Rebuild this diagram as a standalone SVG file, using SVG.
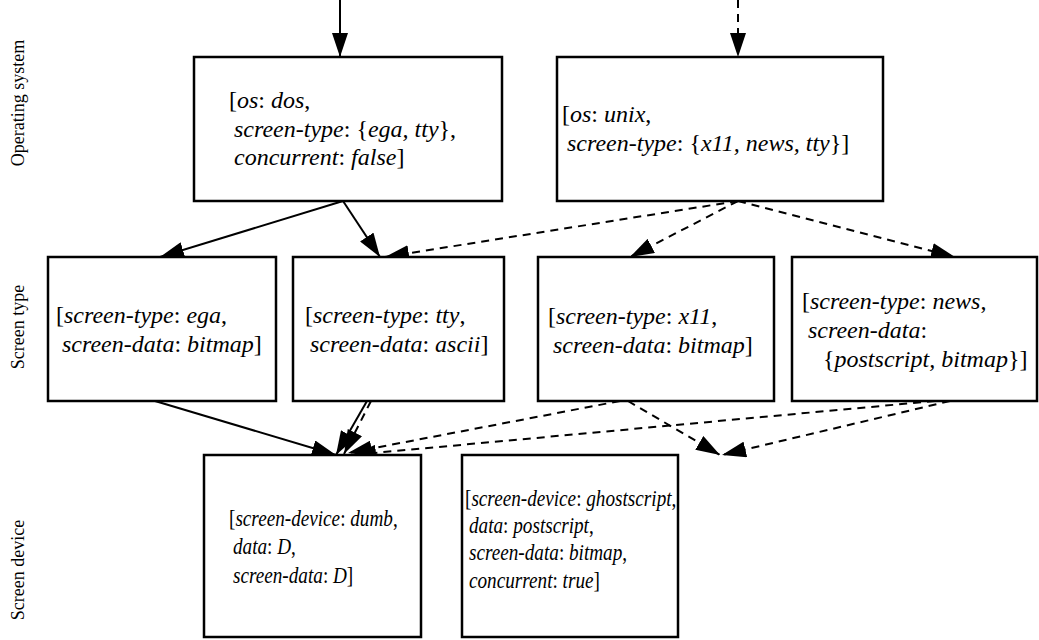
<svg xmlns="http://www.w3.org/2000/svg" width="1039" height="640" viewBox="0 0 1039 640">
<style>
.box{fill:#fff;stroke:#000;stroke-width:2.5}
.t{font-family:"Liberation Serif","Times New Roman",serif;font-size:24px;fill:#000}
.i{font-style:italic}
.lbl{font-family:"Liberation Serif","Times New Roman",serif;font-size:18px;fill:#000}
.e{fill:none;stroke:#000;stroke-width:2;marker-end:url(#ah)}
.d{stroke-dasharray:8,6}
</style>
<defs>
<marker id="ah" viewBox="0 0 24 16" refX="24" refY="8" markerWidth="24" markerHeight="16" markerUnits="userSpaceOnUse" orient="auto">
<path d="M0,0 L24,8 L0,16 z" fill="#000"/>
</marker>
</defs>
<rect width="1039" height="640" fill="#fff"/>
<g id="row-labels">
<text class="lbl" transform="translate(24,103) rotate(-90)" text-anchor="middle">Operating system</text>
<text class="lbl" transform="translate(24,327) rotate(-90)" text-anchor="middle">Screen type</text>
<text class="lbl" transform="translate(24,570) rotate(-90)" text-anchor="middle">Screen device</text>
</g>
<g id="connectors">
<path class="e" d="M340,0 L340,57"/>
<path class="e d" d="M738,0 L738,57"/>
<path class="e" d="M343,201 L160,257"/>
<path class="e" d="M343,201 L380,257"/>
<path class="e d" d="M738,201 L385,257"/>
<path class="e d" d="M738,201 L630,257"/>
<path class="e d" d="M738,201 L955,257"/>
<path class="e" d="M155,401 L336,455"/>
<path class="e" d="M367,401 L336,455"/>
<path class="e d" d="M371,401 L344,454"/>
<path class="e d" d="M620,401 L348,453"/>
<path class="e d" d="M935,401 L352,455"/>
<path class="e d" d="M628,401 L720,455"/>
<path class="e d" d="M950,401 L722,455"/>
</g>
<g id="node-dos">
<rect class="box" x="194" y="57" width="308" height="144"/>
<text class="t" x="229" y="108">[<tspan class="i">os</tspan>: <tspan class="i">dos</tspan>,</text>
<text class="t" x="234" y="137"><tspan class="i">screen-type</tspan>: {<tspan class="i">ega, tty</tspan>},</text>
<text class="t" x="234" y="165"><tspan class="i">concurrent</tspan>: <tspan class="i">false</tspan>]</text>
</g>
<g id="node-unix">
<rect class="box" x="557" y="57" width="326" height="144"/>
<text class="t" x="562" y="122">[<tspan class="i">os</tspan>: <tspan class="i">unix</tspan>,</text>
<text class="t" x="567" y="151"><tspan class="i">screen-type</tspan>: {<tspan class="i">x11, news, tty</tspan>}]</text>
</g>
<g id="node-ega">
<rect class="box" x="48" y="257" width="228" height="144"/>
<text class="t" x="56" y="323">[<tspan class="i">screen-type</tspan>: <tspan class="i">ega</tspan>,</text>
<text class="t" x="62" y="352"><tspan class="i">screen-data</tspan>: <tspan class="i">bitmap</tspan>]</text>
</g>
<g id="node-tty">
<rect class="box" x="293" y="257" width="211" height="144"/>
<text class="t" x="305" y="323">[<tspan class="i">screen-type</tspan>: <tspan class="i">tty</tspan>,</text>
<text class="t" x="310" y="352"><tspan class="i">screen-data</tspan>: <tspan class="i">ascii</tspan>]</text>
</g>
<g id="node-x11">
<rect class="box" x="538" y="257" width="236" height="144"/>
<text class="t" x="548" y="324">[<tspan class="i">screen-type</tspan>: <tspan class="i">x11</tspan>,</text>
<text class="t" x="553" y="353"><tspan class="i">screen-data</tspan>: <tspan class="i">bitmap</tspan>]</text>
</g>
<g id="node-news">
<rect class="box" x="792" y="257" width="245" height="144"/>
<text class="t" x="802" y="309">[<tspan class="i">screen-type</tspan>: <tspan class="i">news</tspan>,</text>
<text class="t" x="808" y="338"><tspan class="i">screen-data</tspan>:</text>
<text class="t" x="823" y="367">{<tspan class="i">postscript, bitmap</tspan>}]</text>
</g>
<g id="node-dumb">
<rect class="box" x="204" y="455" width="217" height="182"/>
<text class="t" transform="translate(229,526) scale(0.8,1)">[<tspan class="i">screen-device</tspan>: <tspan class="i">dumb</tspan>,</text>
<text class="t" transform="translate(233,554) scale(0.8,1)"><tspan class="i">data</tspan>: <tspan class="i">D</tspan>,</text>
<text class="t" transform="translate(233,583) scale(0.8,1)"><tspan class="i">screen-data</tspan>: <tspan class="i">D</tspan>]</text>
</g>
<g id="node-ghostscript">
<rect class="box" x="462" y="455" width="216" height="182"/>
<text class="t" transform="translate(465,506) scale(0.8,1)">[<tspan class="i">screen-device</tspan>: <tspan class="i">ghostscript</tspan>,</text>
<text class="t" transform="translate(469,533) scale(0.8,1)"><tspan class="i">data</tspan>: <tspan class="i">postscript</tspan>,</text>
<text class="t" transform="translate(469,560) scale(0.8,1)"><tspan class="i">screen-data</tspan>: <tspan class="i">bitmap</tspan>,</text>
<text class="t" transform="translate(469,588) scale(0.8,1)"><tspan class="i">concurrent</tspan>: <tspan class="i">true</tspan>]</text>
</g>
</svg>
